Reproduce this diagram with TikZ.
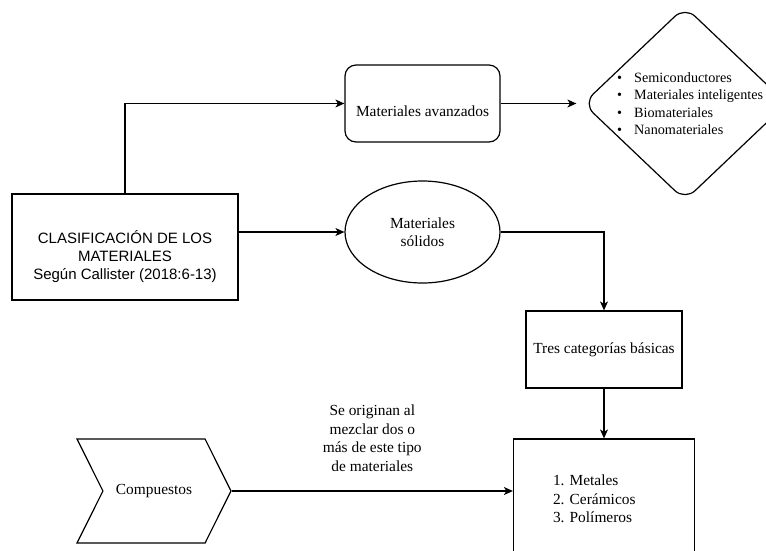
\documentclass[tikz,border=0pt]{standalone}
\usepackage{fontspec}
\setmainfont{Liberation Serif}
\newfontfamily\arialfont{Liberation Sans}
\usetikzlibrary{shapes.geometric}
\usetikzlibrary{shapes.symbols}
\usetikzlibrary{arrows.meta}
\usetikzlibrary{positioning}
\frenchspacing
\tikzset{
  every node/.style={font=\fontsize{15.4}{18.5}\selectfont},
  caja/.style={rectangle,draw=black,line width=1.2pt,inner sep=0pt},
  cajaredonda/.style={caja,rounded corners=11pt},
  elipse/.style={ellipse,draw=black,line width=1.2pt,inner sep=0pt,align=center},
  rombo/.style={diamond,draw=black,line width=1.2pt,inner sep=0pt,
    rounded corners=14pt,minimum width=204pt,minimum height=194pt},
  flechita/.style={signal,draw=black,line width=1.2pt,inner sep=0pt,
    signal from=west,signal to=east,signal pointer angle=127},
  texto/.style={align=center,inner sep=0pt},
  lista/.style={align=left,inner sep=0pt,font=\fontsize{14.2}{17.3}\selectfont},
  flecha/.style={draw=black,line width=1.2pt,
    -{Stealth[length=9pt,width=8pt,inset=2.5pt]}},
}
\newcommand{\punto}{\makebox[17pt][l]{\textbullet}}

\begin{document}
\begin{tikzpicture}[x=1pt,y=-1pt]
  \useasboundingbox (0,0) rectangle (766,550);

  \node[caja, minimum width=226pt, minimum height=106pt] (clas) at (125,247) {};
  \node[texto, font=\arialfont\fontsize{15}{18}\selectfont] (clastxt)
    at ([yshift=-10pt]clas.center) {CLASIFICACIÓN DE LOS\\MATERIALES\\Según Callister (2018:6-13)};

  \node[cajaredonda, minimum width=155pt, minimum height=77pt] (avz) at (422.5,103.5) {};
  \node[texto] (avztxt) at ([yshift=-8pt]avz.center) {Materiales avanzados};

  \node[rombo] (dia) at (685,103.5) {};
  \node[lista, anchor=west] (items) at ([xshift=-68pt]dia.center)
    {\punto Semiconductores\\\punto Materiales inteligentes\\\punto Biomateriales\\\punto Nanomateriales};

  \node[elipse, minimum width=155pt, minimum height=102pt] (sol) at (422.5,232) {Materiales\\sólidos};
  \node[caja, minimum width=156pt, minimum height=77pt] (tres) at (604,349.5) {Tres categorías básicas};
  \node[caja, minimum width=181pt, minimum height=120pt, text width=102pt, align=left]
    (lst) at (604,499) {1. Metales\\2. Cerámicos\\3. Polímeros};
  \node[flechita, minimum width=154pt, minimum height=104pt] (comp) at (154,491) {Compuestos};

  % conectores
  \draw[flecha] (clas.north) |- (avz.west);
  \draw[flecha, shorten >=6pt] (avz.east) -- (dia.west);
  \draw[flecha] (clas.east |- sol.west) -- (sol.west);
  \draw[flecha] (sol.east) -| (tres.north);
  \draw[flecha] (tres.south) -- (lst.north);
  \draw[flecha] (comp.east) -- (lst.west |- comp.east)
    node[texto, midway, above=19pt] (nota) {Se originan al\\mezclar dos o\\más de este tipo\\de materiales};
\end{tikzpicture}
\end{document}
